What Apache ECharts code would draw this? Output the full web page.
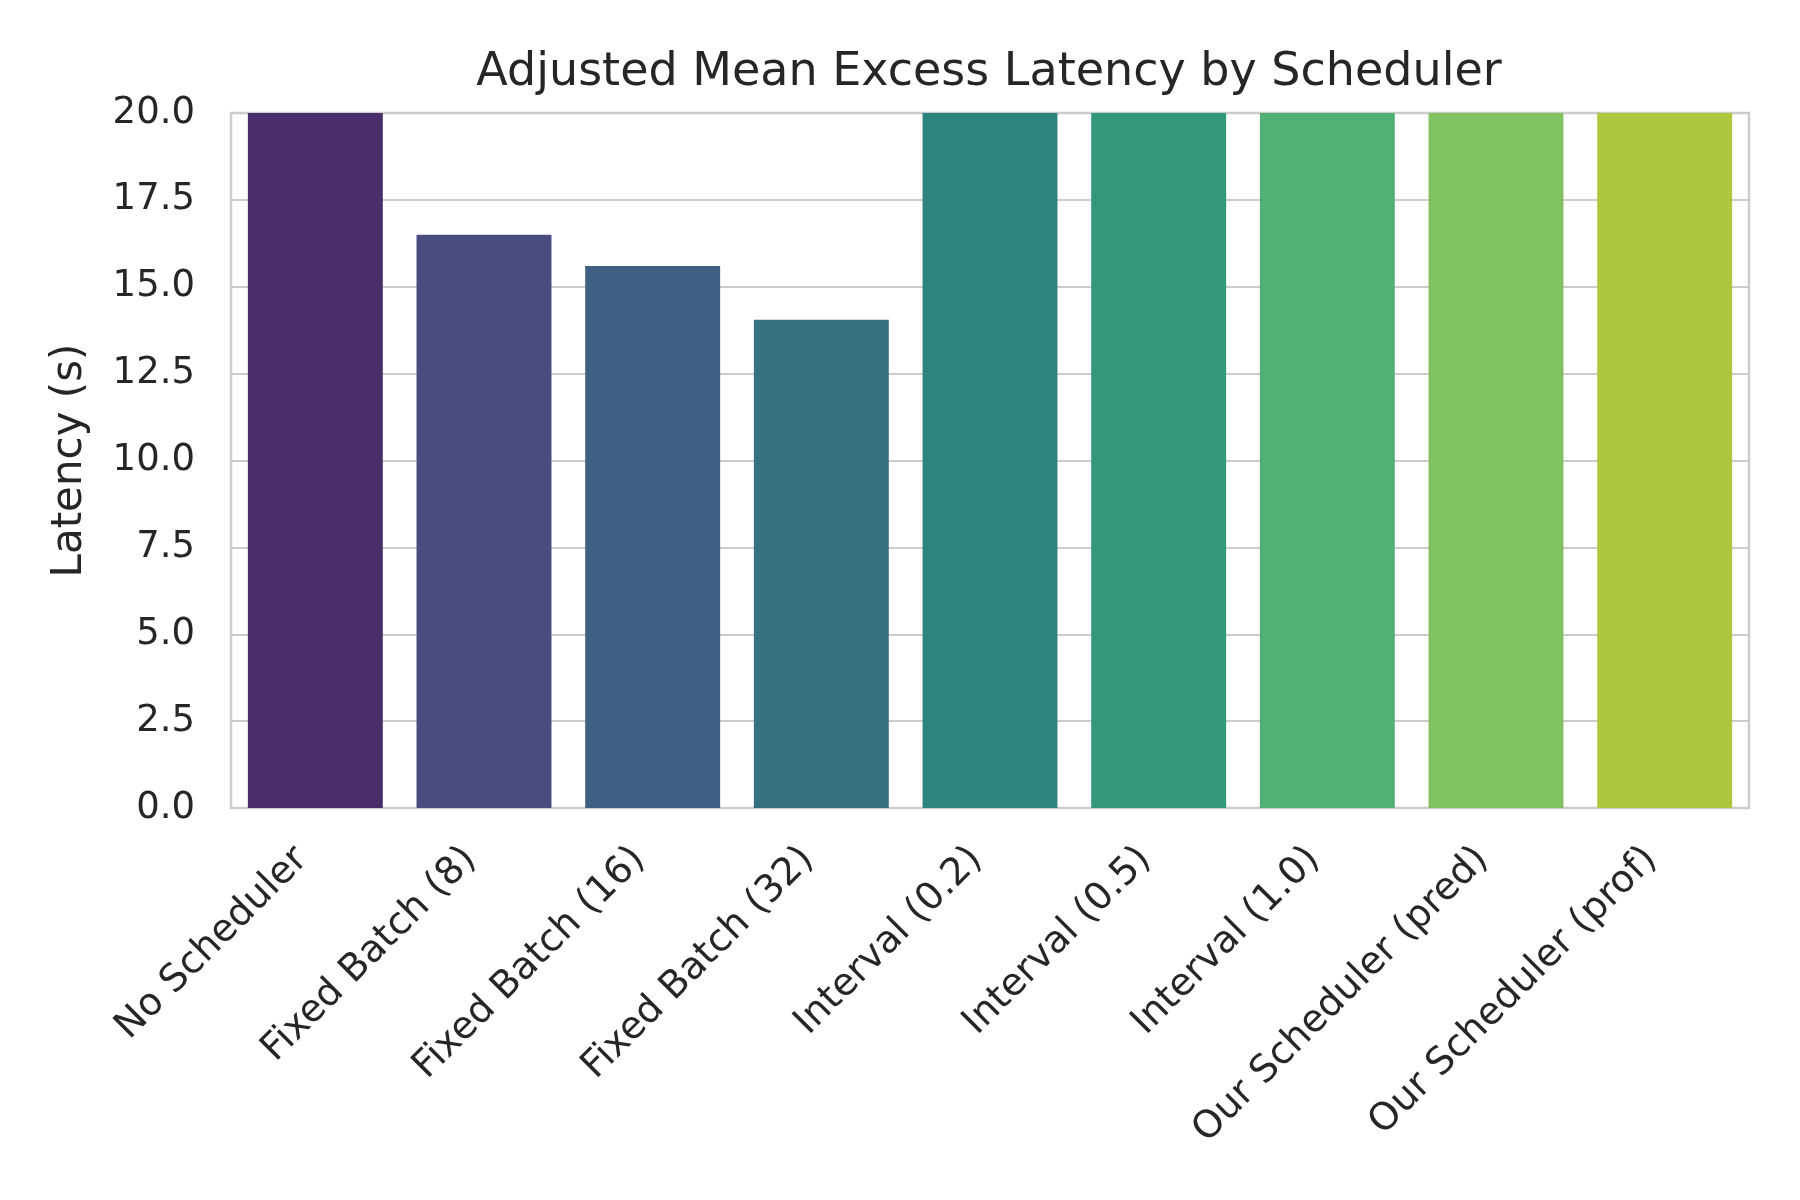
<!DOCTYPE html>
<html>
<head>
<meta charset="utf-8">
<script src="https://cdn.jsdelivr.net/npm/echarts@6/dist/echarts.min.js"></script>
<style>
  html, body { margin: 0; padding: 0; background: #ffffff; }
  #chart { width: 1800px; height: 1200px; }
</style>
</head>
<body>
<div id="chart"></div>
<script>
// schedulers on the x axis
var schedulers = [
    'No Scheduler', 'Fixed Batch (8)', 'Fixed Batch (16)', 'Fixed Batch (32)',
    'Interval (0.2)', 'Interval (0.5)', 'Interval (1.0)',
    'Our Scheduler (pred)', 'Our Scheduler (prof)'
];
// adjusted mean excess latency (s); bars at 20 are cut off by the axis
var latency = [20, 16.5, 15.6, 14.05, 20, 20, 20, 20, 20];
// viridis, desaturated as seaborn does
var barColors = [
    '#492e6b', '#4a4c7e', '#405f82', '#37717f', '#2f837f',
    '#33977c', '#53b074', '#80c161', '#aec83d'
];
var yTicks = { min: 0, max: 20, interval: 2.5 };

var textColor = '#262626';
var font = 'DejaVu Sans';

var myChart = echarts.init(document.getElementById('chart'));
myChart.setOption({
    backgroundColor: '#ffffff',
    animation: false,
    title: {
        text: 'Adjusted Mean Excess Latency by Scheduler',
        left: 984,
        top: 45,
        textAlign: 'center',
        textStyle: { color: textColor, fontFamily: font, fontSize: 46, fontWeight: 'normal' }
    },
    grid: {
        left: 231, right: 51, top: 113, bottom: 392,
        show: true,
        borderColor: '#cccccc',
        borderWidth: 2.5
    },
    xAxis: {
        type: 'category',
        data: schedulers,
        axisLine: { show: false },
        axisTick: { show: false },
        axisLabel: {
            rotate: 45,
            interval: 0,
            margin: 59,
            align: 'right',
            verticalAlign: 'bottom',
            color: textColor,
            fontFamily: font,
            fontSize: 38
        }
    },
    yAxis: {
        type: 'value',
        min: yTicks.min,
        max: yTicks.max,
        interval: yTicks.interval,
        name: 'Latency (s)',
        nameLocation: 'middle',
        nameGap: 140,
        nameTextStyle: { color: textColor, fontFamily: font, fontSize: 42 },
        axisLine: { show: false },
        axisTick: { show: false },
        axisLabel: {
            margin: 36,
            color: textColor,
            fontFamily: font,
            fontSize: 37,
            formatter: function (v) { return v.toFixed(1); }
        },
        splitLine: { lineStyle: { color: '#cccccc', width: 2 } }
    },
    series: [{
        type: 'bar',
        barCategoryGap: '20%',
        data: latency.map(function (v, i) {
            return { value: v, itemStyle: { color: barColors[i] } };
        })
    }]
});
</script>
</body>
</html>
